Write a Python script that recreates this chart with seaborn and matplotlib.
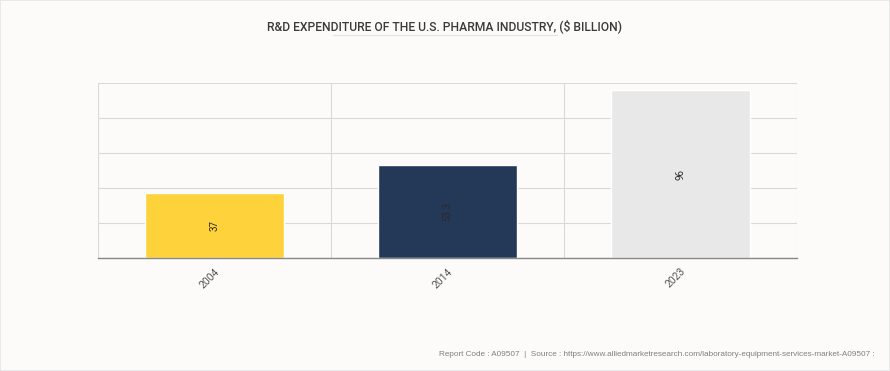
import matplotlib
matplotlib.use("Agg")
import matplotlib.pyplot as plt
import seaborn as sns
import pandas as pd
from matplotlib.lines import Line2D

years = ["2004", "2014", "2023"]
values = [37, 53.3, 96]
value_labels = ["37", "53.3", "96"]
colors = ["#FDD23A", "#243858", "#E8E8E8"]
title = "R&D EXPENDITURE OF THE U.S. PHARMA INDUSTRY, ($ BILLION)"
footer = "Report Code : A09507  |  Source : https://www.alliedmarketresearch.com/laboratory-equipment-services-market-A09507 :"

sns.set_theme(style="white")
plt.rcParams['font.family'] = ['Roboto', 'DejaVu Sans']

bg = "#FCFBFA"
df = pd.DataFrame({"year": years, "value": values})

fig = plt.figure(figsize=(8.9, 3.71), dpi=100, facecolor=bg)
ax = fig.add_axes([98/890, 1-258/371, (797-98)/890, (258-83)/371])
ax.set_facecolor(bg)

sns.barplot(data=df, x="year", y="value", hue="year", palette=colors,
            width=0.6, legend=False, ax=ax, saturation=1)

ax.set_xlim(-0.5, 2.5)
ax.set_ylim(0, 100)
ax.set_yticks([0, 20, 40, 60, 80, 100])
ax.set_yticklabels([])
ax.set_xlabel("")
ax.set_ylabel("")
ax.set_xticks([-0.5, 0.5, 1.5, 2.5], minor=True)
ax.grid(True, axis="y", which="major", color="#D9D9D9", lw=0.8)
ax.grid(True, axis="x", which="minor", color="#D9D9D9", lw=0.8)
ax.grid(False, axis="x", which="major")
ax.set_axisbelow(True)
ax.tick_params(axis="y", length=0)
ax.tick_params(axis="x", which="major", length=0, pad=6)
ax.tick_params(axis="x", which="minor", length=5, color="#888888", width=0.8, direction="out")
for lab in ax.get_xticklabels():
    lab.set_rotation(45)
    lab.set_ha("right")
    lab.set_rotation_mode("anchor")
    lab.set_fontsize(7.5)
    lab.set_color("#555555")

for s in ["top", "right", "left"]:
    ax.spines[s].set_visible(False)
ax.spines["bottom"].set_color("#888888")
ax.spines["bottom"].set_linewidth(1.0)

for i, (v, t) in enumerate(zip(values, value_labels)):
    ax.text(i, v / 2, t, rotation=90, ha="center", va="center",
            fontsize=7, color="#2a2a2a")

fig.text(0.5, 1 - 26/371, title, ha="center", va="center", fontsize=8.7,
         fontweight="medium", color="#3a3a3a")
fig.add_artist(Line2D([333/890, 557/890], [1-35/371, 1-35/371], color="#E2E2E2", lw=0.8))

fig.text(875/890, 1 - 354/371, footer, ha="right", va="center", fontsize=5.9,
         color="#808080", family=["Liberation Sans", "DejaVu Sans"])

fig.add_artist(Line2D([0, 1, 1, 0, 0], [0, 0, 1, 1, 0], color="#E6E6E6", lw=1.2))

fig.savefig("out.png", dpi=100, facecolor=bg)
